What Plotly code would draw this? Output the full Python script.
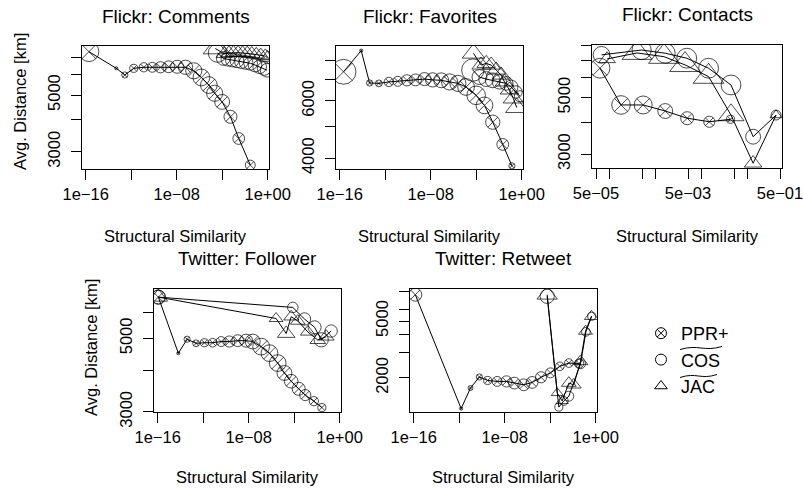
import plotly.graph_objects as go

FONT = "Liberation Sans, Arial, Helvetica, sans-serif"
W, H = 803, 491

# ---------------- data (similarity, avg distance [km], point cex) ----------------
# Flickr: Comments
com_ppr_x = [1.95e-16, 5.0e-14, 2.8e-13, 1.7e-12, 1.3e-11, 7.2e-11, 3.8e-10, 2.0e-9, 1.1e-8,
             6.0e-8, 3.2e-7, 1.5e-6, 6.8e-6, 2.2e-5, 1.0e-4, 5.4e-4, 2.9e-3, 3.0e-2]
com_ppr_y = [7390, 6360, 5990, 6360, 6420, 6420, 6420, 6450, 6450, 6420, 6220, 5860, 5470, 5080,
             4700, 4110, 3380, 2660]
com_ppr_c = [1.6, 0.25, 0.5, 0.65, 0.75, 0.8, 0.9, 0.95, 1.05, 1.15, 1.3, 1.35, 1.35, 1.3, 1.2,
             1.05, 0.95, 0.8]
com_cos_x = [4.0e-5, 1.26e-4, 3.2e-4, 7.9e-4, 2.0e-3, 5.0e-3, 1.26e-2, 3.2e-2, 7.9e-2, 0.2, 0.5, 0.9]
com_cos_y = [7300, 6950, 6900, 6850, 6800, 6750, 6700, 6650, 6550, 6450, 6350, 6250]
com_cos_c = [1.5, 1.1, 1.1, 1.1, 1.1, 1.1, 1.1, 1.1, 1.1, 1.1, 1.1, 1.1]
com_jac_x = [2.5e-5, 1.6e-4, 4.0e-4, 1.0e-3, 2.5e-3, 6.3e-3, 1.6e-2, 4.0e-2, 0.1, 0.25, 0.63, 1.0]
com_jac_y = [7600, 7250, 7300, 7320, 7320, 7300, 7280, 7250, 7200, 7150, 7100, 7000]
com_jac_c = [1.3, 0.9, 0.9, 0.9, 0.9, 0.9, 0.9, 0.9, 0.9, 0.9, 0.9, 0.9]

# Flickr: Favorites
fav_ppr_x = [2.2e-16, 7.9e-15, 4.3e-14, 2.8e-13, 2.1e-12, 1.3e-11, 8.1e-11, 4.7e-10, 2.9e-9, 1.5e-8,
             8.5e-8, 4.6e-7, 2.5e-6, 1.3e-5, 1.0e-4, 5.4e-4, 2.9e-3, 2.2e-2, 0.14]
fav_ppr_y = [7370, 8560, 6810, 6790, 6860, 6890, 6940, 6960, 7000, 6960, 6940, 6860, 6790, 6620,
             6240, 5810, 5160, 4410, 3790]
fav_ppr_c = [2.0, 0.25, 0.5, 0.55, 0.75, 0.8, 0.9, 0.95, 1.05, 1.15, 1.2, 1.3, 1.3, 1.35, 1.5,
             1.35, 1.15, 0.95, 0.5]
fav_cos_x = [5.1e-5, 1.95e-4, 7.6e-4, 2.9e-3, 1.1e-2, 4.4e-2, 0.12, 0.32, 0.71]
fav_cos_y = [7460, 7100, 7000, 6940, 6860, 6790, 6620, 6390, 6200]
fav_cos_c = [1.8, 1.2, 1.2, 1.2, 1.15, 1.1, 1.1, 1.0, 0.9]
fav_jac_x = [5.8e-5, 2.75e-4, 7.6e-4, 2.1e-3, 5.8e-3, 1.6e-2, 3.1e-2, 8.5e-2, 0.19, 0.37]
fav_jac_y = [8400, 7730, 7820, 7730, 7460, 7200, 6860, 6480, 6100, 5720]
fav_jac_c = [1.2, 1.0, 1.0, 1.0, 1.0, 1.0, 1.0, 1.0, 1.1, 1.2]

# Flickr: Contacts
con_ppr_x = [6.1e-5, 1.75e-4, 5.3e-4, 1.6e-3, 4.8e-3, 1.45e-2, 4.2e-2]
con_ppr_y = [6530, 4680, 4680, 4430, 4150, 4020, 4110]
con_ppr_c = [1.6, 1.5, 1.45, 1.2, 1.05, 0.9, 0.65]
con_cos_x = [6.6e-5, 4.9e-4, 1.6e-3, 4.7e-3, 1.4e-2, 4.3e-2, 0.13, 0.41]
con_cos_y = [7370, 7700, 7480, 7150, 6530, 5610, 3510, 4270]
con_cos_c = [1.35, 1.55, 1.6, 1.6, 1.6, 1.6, 1.2, 0.8]
con_jac_x = [8.7e-5, 3.9e-4, 1.5e-3, 4.3e-3, 1.4e-2, 4.3e-2, 0.13, 0.41]
con_jac_y = [7100, 7500, 7250, 6730, 6050, 4270, 2760, 4270]
con_jac_c = [0.9, 1.6, 1.65, 1.65, 1.65, 1.4, 0.95, 0.65]

# Twitter: Follower
fol_ppr_x = [1.15e-16, 6.6e-15, 3.9e-14, 2.4e-13, 1.3e-12, 6.9e-12, 3.8e-11, 2.0e-10, 1.1e-9, 6.0e-9,
             2.3e-8, 1.26e-7, 6.8e-7, 3.6e-6, 1.4e-5, 5.5e-5, 2.5e-4, 9.5e-4, 5.4e-3, 2.75e-2]
fol_ppr_y = [6660, 4510, 4970, 4830, 4850, 4850, 4890, 4890, 4920, 4920, 4890, 4720, 4510, 4210,
             3930, 3710, 3520, 3370, 3230, 3090]
fol_ppr_c = [1.1, 0.25, 0.5, 0.55, 0.65, 0.7, 0.8, 0.9, 0.95, 1.05, 1.2, 1.35, 1.35, 1.35, 1.2,
             1.1, 1.05, 0.9, 0.75, 0.65]
fol_cos_x = [1.15e-16, 7.6e-5, 8.1e-4, 6.3e-3, 2.4e-2, 0.18]
fol_cos_y = [6660, 6200, 5720, 5400, 4950, 5260]
fol_cos_c = [1.15, 0.85, 1.0, 1.05, 1.15, 1.0]
fol_jac_x = [1.15e-16, 2.6e-6, 2.0e-5, 5.5e-5, 2.1e-4, 1.6e-3, 1.2e-2, 6.6e-2]
fol_jac_y = [6660, 5740, 5170, 5810, 5640, 5230, 4940, 5060]
fol_jac_c = [1.0, 0.75, 0.95, 0.8, 0.8, 0.8, 0.85, 0.85]

# Twitter: Retweet
ret_ppr_x = [1.4e-16, 1.5e-12, 1.0e-11, 6.0e-11, 3.2e-10, 2.2e-9, 1.45e-8, 7.2e-8, 4.8e-7, 2.6e-6,
             1.6e-5, 1.07e-4, 7.1e-4, 4.4e-3, 3.5e-2]
ret_ppr_y = [7640, 1220, 1700, 2030, 1920, 1890, 1890, 1840, 1790, 1860, 2020, 2170, 2410, 2540, 2520]
ret_ppr_c = [1.05, 0.25, 0.4, 0.5, 0.65, 0.8, 0.9, 0.95, 0.95, 0.95, 0.9, 0.8, 0.7, 0.7, 0.75]
ret_cos_x = [5.5e-5, 5.8e-4, 1.6e-3, 4.4e-3, 4.7e-2, 0.14, 0.45]
ret_cos_y = [7440, 1250, 1380, 1490, 2510, 4200, 5400]
ret_cos_c = [1.15, 0.65, 0.7, 0.8, 0.8, 0.7, 0.65]
ret_jac_x = [5.5e-5, 4.2e-4, 1.15e-3, 4.4e-3, 1.2e-2, 4.7e-2, 0.13, 0.42]
ret_jac_y = [7640, 1570, 1380, 1840, 1790, 2610, 4240, 5380]
ret_jac_c = [1.1, 0.65, 0.65, 0.8, 0.8, 0.8, 0.75, 0.75]

panel_titles = ["Flickr: Comments", "Flickr: Favorites", "Flickr: Contacts",
                "Twitter: Follower", "Twitter: Retweet"]
legend_labels = ["PPR+", "COS", "JAC"]
x_title = "Structural Similarity"
y_title = "Avg. Distance [km]"

log_xticks = [1e-16, 1e-12, 1e-8, 1e-4, 1]
log_xtext = ["1e\u221216", "", "1e\u221208", "", "1e+00"]
con_xticks = [5e-5, 1e-4, 5e-4, 1e-3, 5e-3, 1e-2, 5e-2, 1e-1, 5e-1]
con_xtext = ["5e\u221205", "", "", "", "5e\u221203", "", "", "", "5e\u221201"]

yt_com = ([3000, 4000, 5000, 6000, 7000], ["3000", "", "5000", "", ""])
yt_fav = ([4000, 5000, 6000, 7000, 8000], ["4000", "", "6000", "", ""])
yt_con = ([3000, 4000, 5000, 6000, 7000, 8000], ["3000", "", "5000", "", "", ""])
yt_fol = ([3000, 4000, 5000, 6000], ["3000", "", "5000", ""])
yt_ret = ([2000, 3000, 4000, 5000, 6000, 8000], ["2000", "", "", "5000", "", ""])

# ---------------- layout geometry (screen pixels) ----------------
def fx(px):
    return px / W

def fy(py):
    return 1 - py / H

BASE = 12.4  # marker diameter in px for cex = 1
panels = [
    dict(box=(82, 269, 46, 169), xr=(-16.32, 0.12), yr=(3.4096, 3.8908), xt=(log_xticks, log_xtext), yt=yt_com,
         d=[(com_ppr_x, com_ppr_y, com_ppr_c), (com_cos_x, com_cos_y, com_cos_c), (com_jac_x, com_jac_y, com_jac_c)]),
    dict(box=(336, 523, 46, 169), xr=(-16.32, 0.12), yr=(3.5689, 3.9467), xt=(log_xticks, log_xtext), yt=yt_fav,
         d=[(fav_ppr_x, fav_ppr_y, fav_ppr_c), (fav_cos_x, fav_cos_y, fav_cos_c), (fav_jac_x, fav_jac_y, fav_jac_c)]),
    dict(box=(592, 782, 45, 168), xr=(-4.388, -0.258), yr=(3.4221, 3.9063), xt=(con_xticks, con_xtext), yt=yt_con,
         d=[(con_ppr_x, con_ppr_y, con_ppr_c), (con_cos_x, con_cos_y, con_cos_c), (con_jac_x, con_jac_y, con_jac_c)]),
    dict(box=(154, 341, 289, 412), xr=(-16.32, 0.12), yr=(3.4765, 3.848), xt=(log_xticks, log_xtext), yt=yt_fol,
         d=[(fol_ppr_x, fol_ppr_y, fol_ppr_c), (fol_cos_x, fol_cos_y, fol_cos_c), (fol_jac_x, fol_jac_y, fol_jac_c)]),
    dict(box=(410, 597, 289, 412), xr=(-16.32, 0.12), yr=(3.0626, 3.9228), xt=(log_xticks, log_xtext), yt=yt_ret,
         d=[(ret_ppr_x, ret_ppr_y, ret_ppr_c), (ret_cos_x, ret_cos_y, ret_cos_c), (ret_jac_x, ret_jac_y, ret_jac_c)]),
]

fig = go.Figure()
axis_common = dict(showline=True, linecolor="black", linewidth=1, mirror=True, ticks="outside",
                   ticklen=10, tickwidth=1, tickcolor="black", showgrid=False, zeroline=False,
                   automargin=False, ticklabeloverflow="allow",
                   tickfont=dict(size=16.5, family=FONT, color="black"), type="log")

def mk(symbol, size, lw=1):
    return dict(symbol=symbol, size=size, color="black", line=dict(width=lw, color="black"))

layout_axes = {}
for i, p in enumerate(panels, start=1):
    x0, x1, y0, y1 = p["box"]
    xa = "x" if i == 1 else f"x{i}"
    ya = "y" if i == 1 else f"y{i}"
    layout_axes["xaxis" if i == 1 else f"xaxis{i}"] = dict(
        axis_common, domain=[fx(x0), fx(x1)], anchor=ya, range=list(p["xr"]),
        tickvals=p["xt"][0], ticktext=p["xt"][1], ticklabelstandoff=0)
    layout_axes["yaxis" if i == 1 else f"yaxis{i}"] = dict(
        axis_common, domain=[fy(y1), fy(y0)], anchor=xa, range=list(p["yr"]),
        tickvals=p["yt"][0], ticktext=p["yt"][1], tickangle=-90, ticklabelstandoff=4)
    (px_, py_, pc_), (cx_, cy_, cc_), (jx_, jy_, jc_) = p["d"]
    fig.add_trace(go.Scatter(x=px_, y=py_, xaxis=xa, yaxis=ya, mode="lines+markers",
                             line=dict(color="black", width=1),
                             marker=mk("circle-open", [c * BASE for c in pc_]), showlegend=False))
    fig.add_trace(go.Scatter(x=px_, y=py_, xaxis=xa, yaxis=ya, mode="markers",
                             marker=mk("x-thin", [c * BASE * 0.714 for c in pc_]), showlegend=False))
    fig.add_trace(go.Scatter(x=cx_, y=cy_, xaxis=xa, yaxis=ya, mode="lines+markers",
                             line=dict(color="black", width=1),
                             marker=mk("circle-open", [c * BASE for c in cc_]), showlegend=False))
    fig.add_trace(go.Scatter(x=jx_, y=jy_, xaxis=xa, yaxis=ya, mode="lines+markers",
                             line=dict(color="black", width=1),
                             marker=mk("triangle-up-open", [c * BASE * 1.3 for c in jc_]), showlegend=False))

# legend entries
for lab, sym in zip(legend_labels, ["circle-x-open", "circle-open", "triangle-up-open"]):
    fig.add_trace(go.Scatter(x=[None], y=[None], mode="markers", name=lab,
                             marker=mk(sym, 11), showlegend=True))

ann = []
def A(text, x, y, size, angle=0):
    ann.append(dict(text=text, x=fx(x), y=fy(y), xref="paper", yref="paper", showarrow=False,
                    xanchor="center", yanchor="middle", textangle=angle,
                    font=dict(size=size, family=FONT, color="black")))

title_y = [17, 17, 14, 258, 258]
xt_y = [236, 236, 236, 477, 477]
for p, t, ty, xy in zip(panels, panel_titles, title_y, xt_y):
    x0, x1, y0, y1 = p["box"]
    A(t, (x0 + x1) / 2, ty, 19)
    A(x_title, (x0 + x1) / 2, xy, 16.5)
A(y_title, 20, 102, 16.5, -90)
A(y_title, 91, 348, 16.5, -90)

def tilde(x0, x1, y):
    w = x1 - x0
    pts = [(x0, y + 1.5), (x0 + w * 0.45, y - 4), (x0 + w * 0.55, y + 4), (x1, y - 1.5)]
    q = [(fx(a), fy(b)) for a, b in pts]
    return dict(type="path", xref="paper", yref="paper",
                path=f"M {q[0][0]},{q[0][1]} C {q[1][0]},{q[1][1]} {q[2][0]},{q[2][1]} {q[3][0]},{q[3][1]}",
                line=dict(color="black", width=1))

fig.update_layout(
    width=W, height=H, margin=dict(l=0, r=0, t=0, b=0),
    paper_bgcolor="white", plot_bgcolor="white",
    font=dict(family=FONT, color="black"),
    legend=dict(x=fx(641), y=fy(315), xanchor="left", yanchor="top",
                font=dict(size=18, family=FONT, color="black"), bgcolor="rgba(0,0,0,0)"),
    annotations=ann,
    shapes=[tilde(680, 722, 348), tilde(680, 717, 376)],
    **layout_axes,
)

fig.write_html("out.html", config={"displayModeBar": False},
               post_script="document.body.style.margin='0px';")
